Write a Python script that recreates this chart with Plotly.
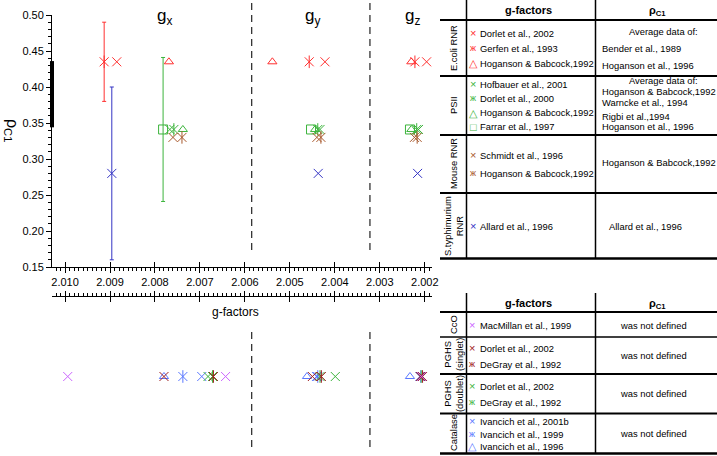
import plotly.graph_objects as go

# ---------------- data ----------------
# upper panel: [gx, gy, gz] of each reference; rho_C1 value per group
ecoli_dorlet_2002 = [2.00885, 2.00422, 2.00196]
ecoli_gerfen_1993 = [2.00913, 2.00457, 2.00222]
ecoli_hoganson_1992 = [2.00769, 2.00539, 2.00230]
ecoli_rho = 0.435
ecoli_rho_err = 0.055

psii_hofbauer_2001 = [2.00767, 2.00433, 2.00214]
psii_dorlet_2000 = [2.00758, 2.00438, 2.00218]
psii_hoganson_1992 = [2.00738, 2.00444, 2.00230]
psii_farrar_1997 = [2.00782, 2.00453, 2.00233]
psii_rho = 0.341
psii_rho_err = 0.10

mouse_schmidt_1996 = [2.00760, 2.00440, 2.00223]
mouse_hoganson_1992 = [2.00740, 2.00431, 2.00217]
mouse_rho = 0.330

styph_allard_1996 = [2.00896, 2.00437, 2.00216]
styph_rho = 0.280
styph_rho_err = 0.12

rho_span = [0.344, 0.436]

# lower panel: [gx, gy, gz] (rho_C1 not defined)
cco_macmillan_1999 = [2.00994, 2.00643, 2.00207]
pghs_s_dorlet_2002 = [2.00780, 2.00450, 2.00210]
pghs_s_degray_1992 = [2.00670, 2.00430, 2.00205]
pghs_d_dorlet_2002 = [2.00682, 2.00399, 2.00206]
pghs_d_degray_1992 = [2.00672, 2.00433, 2.00208]
cat_ivancich_2001b = [2.00696, 2.00441, 2.00211]
cat_ivancich_1999 = [2.00738, 2.00438, 2.00209]
cat_ivancich_1996 = [2.00780, 2.00462, 2.00233]

separators = [2.00585, 2.00322]
g_axis_labels = ["g<sub>x</sub>", "g<sub>y</sub>", "g<sub>z</sub>"]
g_axis_label_at = [2.00778, 2.00449, 2.00227]
x_ticks = [2.010, 2.009, 2.008, 2.007, 2.006, 2.005, 2.004, 2.003, 2.002]
y_ticks = [0.15, 0.20, 0.25, 0.30, 0.35, 0.40, 0.45, 0.50]

# ---------------- styling ----------------
RED = "#ff3030"
GREEN = "#3cb43c"
BROWN = "#a8582c"
BLUE = "#3434c4"
VIOLET = "#cc66ff"
DRED = "#a02020"
LBLUE = "#5a78ff"
FONT = "Liberation Sans, Arial, sans-serif"
TS = 9.4  # table font size

W, H = 717, 456
ML, MR = 52, 285
PW = W - ML - MR
XR = [2.01029, 2.00184]


def px(x):
    return (x - ML) / PW


def py(y):
    return 1 - y / H


fig = go.Figure()


def add_pts(g, yval, color, kind, xa, ya):
    syms = {"x": ["x-thin-open"], "ast": ["x-thin-open", "line-ns-open"],
            "tri": ["triangle-up-open"], "sq": ["square-open"]}[kind]
    size = {"x": 9, "ast": 9, "tri": 8, "sq": 9}[kind]
    for s in syms:
        fig.add_trace(go.Scatter(
            x=g, y=[yval] * len(g), mode="markers", xaxis=xa, yaxis=ya,
            showlegend=False, hoverinfo="skip", cliponaxis=False,
            marker=dict(symbol=s, size=size, color=color,
                        line=dict(color=color, width=1))))


def add_err(gx, yval, err, color):
    fig.add_trace(go.Scatter(
        x=[gx], y=[yval], mode="markers", xaxis="x", yaxis="y",
        showlegend=False, hoverinfo="skip", marker=dict(size=1, opacity=0),
        error_y=dict(type="data", array=[err], color=color, thickness=1, width=2)))


# error bars (first g-value of the reference carrying them)
add_err(ecoli_gerfen_1993[0], ecoli_rho, ecoli_rho_err, RED)
add_err(styph_allard_1996[0], styph_rho, styph_rho_err, BLUE)
add_err(psii_farrar_1997[0], psii_rho, psii_rho_err, GREEN)

# upper panel points
add_pts(ecoli_dorlet_2002, ecoli_rho, RED, "x", "x", "y")
add_pts(ecoli_gerfen_1993, ecoli_rho, RED, "ast", "x", "y")
add_pts(ecoli_hoganson_1992, ecoli_rho, RED, "tri", "x", "y")
add_pts(psii_farrar_1997, psii_rho, GREEN, "sq", "x", "y")
add_pts(psii_hoganson_1992, psii_rho, GREEN, "tri", "x", "y")
add_pts(psii_hofbauer_2001, psii_rho, GREEN, "x", "x", "y")
add_pts(psii_dorlet_2000, psii_rho, GREEN, "ast", "x", "y")
add_pts(mouse_schmidt_1996, mouse_rho, BROWN, "x", "x", "y")
add_pts(mouse_hoganson_1992, mouse_rho, BROWN, "ast", "x", "y")
add_pts(styph_allard_1996, styph_rho, BLUE, "x", "x", "y")

# lower panel points
add_pts(cat_ivancich_1996, 0, LBLUE, "tri", "x2", "y2")
add_pts(cat_ivancich_1999, 0, LBLUE, "ast", "x2", "y2")
add_pts(cat_ivancich_2001b, 0, LBLUE, "x", "x2", "y2")
add_pts(pghs_d_dorlet_2002, 0, GREEN, "x", "x2", "y2")
add_pts(pghs_d_degray_1992, 0, GREEN, "ast", "x2", "y2")
add_pts(pghs_s_dorlet_2002, 0, DRED, "x", "x2", "y2")
add_pts(pghs_s_degray_1992, 0, DRED, "ast", "x2", "y2")
add_pts(cco_macmillan_1999, 0, VIOLET, "x", "x2", "y2")

# dummy traces so the overlay tick axes are drawn
fig.add_trace(go.Scatter(x=[x_ticks[4]], y=[None], xaxis="x3", yaxis="y",
                         showlegend=False, hoverinfo="skip"))
fig.add_trace(go.Scatter(x=[x_ticks[4]], y=[None], xaxis="x4", yaxis="y2",
                         showlegend=False, hoverinfo="skip"))

top_dom = [py(267), py(15)]
bot_dom = [0, py(297)]

xcommon = dict(range=XR, tickvals=x_ticks, showgrid=False, zeroline=False,
               tickcolor="black", tickwidth=1, ticklen=5,
               minor=dict(dtick=0.0001, tick0=2.0, ticklen=3, tickcolor="black",
                          tickwidth=1, showgrid=False))
fig.update_layout(
    width=W, height=H, plot_bgcolor="white", paper_bgcolor="white",
    margin=dict(l=ML, r=MR, t=0, b=0, pad=0, autoexpand=False),
    font=dict(family=FONT, color="black"),
    xaxis=dict(**xcommon, domain=[0, 1], anchor="y", side="bottom", ticks="outside",
               showline=True, linecolor="black", linewidth=1,
               ticktext=[f"{v:.3f}" for v in x_ticks], tickfont=dict(size=11)),
    xaxis3=dict(**xcommon, overlaying="x", anchor="y", side="bottom", ticks="inside",
                showline=False, showticklabels=False),
    xaxis2=dict(**xcommon, domain=[0, 1], anchor="y2", side="top", ticks="outside",
                showline=True, linecolor="black", linewidth=1, showticklabels=False),
    xaxis4=dict(**xcommon, overlaying="x2", anchor="y2", side="top", ticks="inside",
                showline=False, showticklabels=False),
    yaxis=dict(domain=top_dom, anchor="x", range=[0.15, 0.50], tickvals=y_ticks,
               tickformat=".2f", ticks="outside", ticklen=5, tickcolor="black",
               showline=True, linecolor="black", linewidth=1, showgrid=False,
               zeroline=False, tickfont=dict(size=11),
               minor=dict(dtick=0.01, ticklen=3, tickcolor="black", showgrid=False)),
    yaxis2=dict(domain=bot_dom, anchor="x2", range=[-1, 1], visible=False),
)

shapes = []
# dashed separators in both panels
for gsep in separators:
    shapes.append(dict(type="line", xref="x", yref="paper", x0=gsep, x1=gsep,
                       y0=py(250), y1=py(2), line=dict(color="#333333", width=1.3, dash="7px,5px")))
    shapes.append(dict(type="line", xref="x", yref="paper", x0=gsep, x1=gsep,
                       y0=py(447), y1=py(330), line=dict(color="#333333", width=1.3, dash="7px,5px")))
# thick range bar on the y axis
shapes.append(dict(type="line", xref="paper", yref="y", x0=0, x1=0,
                   y0=rho_span[0], y1=rho_span[1], line=dict(color="black", width=4)))


# table lines
def hline(y, w=2, x0=440, x1=717):
    shapes.append(dict(type="line", xref="paper", yref="paper", x0=px(x0), x1=px(x1),
                       y0=py(y), y1=py(y), line=dict(color="black", width=w)))


def vline(x, y0, y1, w=1.5):
    shapes.append(dict(type="line", xref="paper", yref="paper", x0=px(x), x1=px(x),
                       y0=py(y0), y1=py(y1), line=dict(color="black", width=w)))


for yy in [20, 76, 135, 193]:
    hline(yy)
hline(258.5, 2.5)
vline(466.5, 0, 259)
vline(595.5, 0, 259)
for yy, ww in [(312, 2), (337, 1.5), (374, 2), (413.5, 2), (453.5, 2.5)]:
    hline(yy, ww)
vline(466.5, 293, 454)
vline(595.5, 293, 454)

anns = []


def ann(text, x, y, size=TS, color="black", xanchor="left", angle=0, bold=False):
    if bold:
        text = f"<b>{text}</b>"
    d = dict(text=text, showarrow=False, font=dict(size=size, color=color, family=FONT),
             xanchor=xanchor, yanchor="middle", textangle=angle,
             xref="paper", yref="paper", x=px(x), y=py(y))
    anns.append(d)
    return d


# g-axis labels above columns
for lab, gpos in zip(g_axis_labels, g_axis_label_at):
    anns.append(dict(text=lab, xref="x", yref="paper", x=gpos, y=py(17), showarrow=False,
                     font=dict(size=17, family=FONT), xanchor="center", yanchor="middle"))

ann("ρ<sub>C1</sub>", 12, 130, size=16, xanchor="center", angle=90)
ann("g-factors", 235, 312, size=12, xanchor="center")

SYM = {"x": "×", "ast": "ж", "tri": "△", "sq": "□"}

# upper table
ann("g-factors", 528, 10, size=11, xanchor="center", bold=True)
ann("ρ<sub>C1</sub>", 657, 11, size=11, xanchor="center", bold=True)
upper_rows = [
    ("x", RED, "Dorlet et al., 2002", 33),
    ("ast", RED, "Gerfen et al., 1993", 48),
    ("tri", RED, "Hoganson & Babcock,1992", 63),
    ("x", GREEN, "Hofbauer et al., 2001", 84),
    ("ast", GREEN, "Dorlet et al., 2000", 98),
    ("tri", GREEN, "Hoganson & Babcock,1992", 113),
    ("sq", GREEN, "Farrar et al., 1997", 127),
    ("x", BROWN, "Schmidt et al., 1996", 155),
    ("ast", BROWN, "Hoganson & Babcock,1992", 173),
    ("x", BLUE, "Allard et al., 1996", 226),
]
for kind, col, txt, yy in upper_rows:
    ann(SYM[kind], 473, yy, size=11 if kind != "ast" else 9, color=col, xanchor="center")
    ann(txt, 478, yy)
rho_rows = [
    ("Average data of:", 663, 31, "center"),
    ("Bender et al., 1989", 600, 48, "left"),
    ("Hoganson et al., 1996", 600, 65, "left"),
    ("Average data of:", 663, 80, "center"),
    ("Hoganson & Babcock,1992", 600, 91, "left"),
    ("Warncke et al., 1994", 600, 103, "left"),
    ("Rigbi et al.,1994", 600, 116, "left"),
    ("Hoganson et al., 1996", 600, 127, "left"),
    ("Hoganson & Babcock,1992", 600, 163, "left"),
    ("Allard et al., 1996", 607, 226, "left"),
]
for txt, xx, yy, anc in rho_rows:
    ann(txt, xx, yy, xanchor=anc)
for txt, xx, yy in [("E.coli RNR", 453, 48), ("PSII", 453, 105), ("Mouse RNR", 453, 164),
                    ("S.typhimurium<br>RNR", 453, 226)]:
    ann(txt, xx, yy, xanchor="center", angle=-90)

# lower table
ann("g-factors", 528, 303, size=11, xanchor="center", bold=True)
ann("ρ<sub>C1</sub>", 657, 304, size=11, xanchor="center", bold=True)
lower_rows = [
    ("x", VIOLET, "MacMillan et al., 1999", 325),
    ("x", DRED, "Dorlet et al., 2002", 348),
    ("ast", DRED, "DeGray et al., 1992", 364),
    ("x", GREEN, "Dorlet et al., 2002", 386),
    ("ast", GREEN, "DeGray et al., 1992", 402),
    ("x", LBLUE, "Ivancich et al., 2001b", 421),
    ("ast", LBLUE, "Ivancich et al., 1999", 434),
    ("tri", LBLUE, "Ivancich et al., 1996", 446),
]
for kind, col, txt, yy in lower_rows:
    ann(SYM[kind], 472, yy, size=11 if kind != "ast" else 9, color=col, xanchor="center")
    ann(txt, 478, yy)
for yy in [325, 355, 393, 433]:
    ann("was not defined", 653, yy, xanchor="center")
for txt, yy in [("CcO", 325), ("PGHS<br>(singlet)", 355), ("PGHS<br>(doublet)", 394),
                ("Catalase", 433)]:
    ann(txt, 453, yy, xanchor="center", angle=-90)

fig.update_layout(shapes=shapes, annotations=anns)
fig.write_html("out.html", config={"displayModeBar": False},
               post_script="document.body.style.margin='0';")
